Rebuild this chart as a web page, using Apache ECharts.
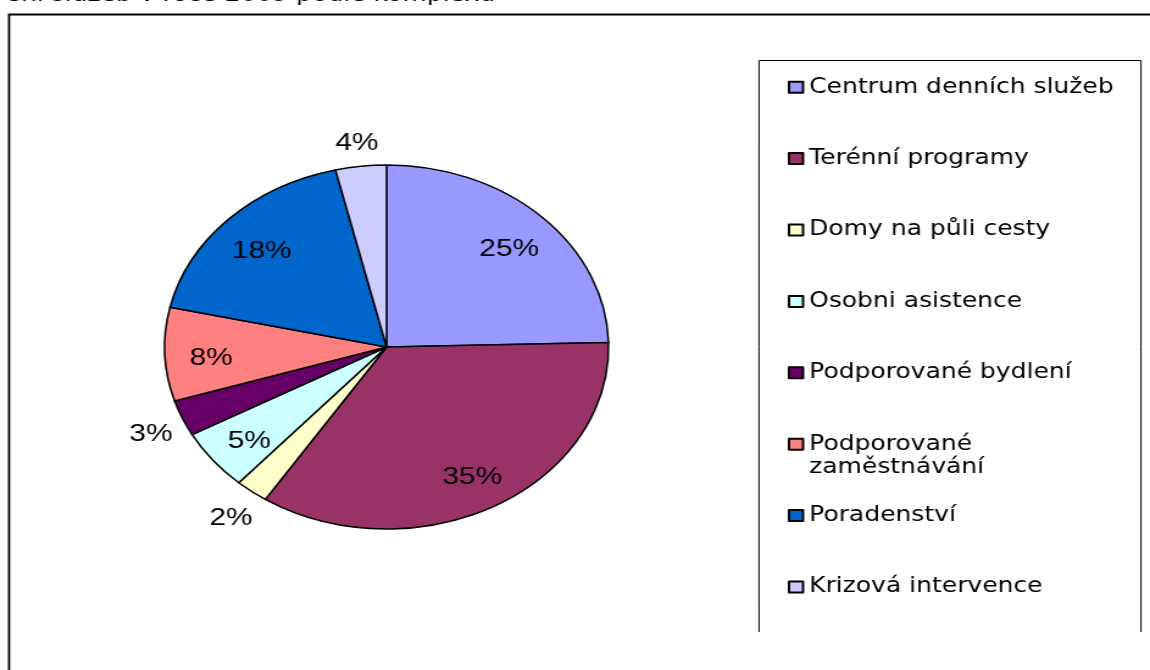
<!DOCTYPE html>
<html>
<head>
<meta charset="utf-8">
<script src="https://cdn.jsdelivr.net/npm/echarts@6/dist/echarts.min.js"></script>
<style>
  html, body { margin: 0; padding: 0; background: #fff; overflow: hidden; }
  /* the source picture is stretched sideways (round pie shows as an ellipse), so we draw narrow and stretch */
  #chart { width: 943px; height: 670px; transform: scaleX(1.2195); transform-origin: 0 0; }
</style>
</head>
<body>
<div id="chart"></div>
<script type="text/javascript">

var categories = ['Centrum denních služeb', 'Terénní programy', 'Domy na půli cesty', 'Osobni asistence',
                  'Podporované bydlení', 'Podporované\nzaměstnávání', 'Poradenství', 'Krizová intervence'];
var shares = [24.6, 34.6, 2.4, 5.4, 3.2, 8.3, 17.8, 3.7];
var colors = ['#9999FF', '#993366', '#FFFFCC', '#CCFFFF', '#660066', '#FF8080', '#0066CC', '#CCCCFF'];

var titleText = 'ení služeb v roce 2009 podle komplexu';

// small slices get their label outside the pie
function pieData(pick) {
	return categories.map(function (name, i) {
		return { name: name, value: shares[i], label: { show: pick(shares[i]) } };
	});
}

var pctLabel = function (p) { return Math.round(p.percent) + '%'; };
var labelFont = { fontFamily: 'Liberation Sans', fontSize: 24.5, color: '#000', offset: [0, 5] };
var pieCenter = [317, 347];

var myChart = echarts.init(document.getElementById('chart'), null, { renderer: 'canvas' });
var option = {
	color: colors,
	animation: false,
	graphic: [
		{
			type: 'text', x: 406, y: -4,
			style: { text: titleText, align: 'right', verticalAlign: 'middle',
				font: '20.5px "DejaVu Sans"', fill: '#000' }
		},
		{
			type: 'polyline',
			shape: { points: [[7.4, 700], [7.4, 14.5], [1000, 14.5]] },
			style: { stroke: '#000', lineWidth: 1.8, fill: null }
		},
		{
			type: 'polyline',
			shape: { points: [[622.4, 632], [622.4, 60.5], [935.6, 60.5], [935.6, 632]] },
			style: { stroke: '#000', lineWidth: 1, fill: null }
		}
	],
	legend: {
		orient: 'vertical',
		left: 646,
		top: 51.5,
		padding: 0,
		itemGap: 0,
		itemWidth: 11.5,
		itemHeight: 11,
		icon: 'rect',
		selectedMode: false,
		itemStyle: { borderColor: '#000', borderWidth: 2 },
		textStyle: { fontFamily: 'DejaVu Sans', fontSize: 20.5, lineHeight: 23.8, color: '#000' },
		// pad every entry to three lines so the marker sits on the first line of the name
		formatter: function (name) {
			return name.indexOf('\n') >= 0 ? '\n' + name : '\n' + name + '\n';
		},
		data: categories
	},
	series: [
		{
			name: 'služby',
			type: 'pie',
			center: pieCenter,
			radius: 182,
			startAngle: 90,
			label: { show: false },
			labelLine: { show: false },
			itemStyle: { borderColor: '#000', borderWidth: 1.5 },
			emphasis: { disabled: true },
			data: pieData(function () { return false; })
		},
		{
			name: 'inner labels',
			type: 'pie',
			center: pieCenter,
			radius: [100, 182],
			startAngle: 90,
			silent: true,
			avoidLabelOverlap: false,
			itemStyle: { color: 'rgba(0,0,0,0)', borderWidth: 0 },
			label: Object.assign({ position: 'inside', formatter: pctLabel }, labelFont),
			labelLine: { show: false },
			emphasis: { disabled: true },
			data: pieData(function (v) { return v >= 4.5; })
		},
		{
			name: 'outer labels',
			type: 'pie',
			center: pieCenter,
			radius: [188, 226],
			startAngle: 90,
			silent: true,
			avoidLabelOverlap: false,
			itemStyle: { color: 'rgba(0,0,0,0)', borderWidth: 0 },
			label: Object.assign({ position: 'inside', formatter: pctLabel }, labelFont),
			labelLine: { show: false },
			emphasis: { disabled: true },
			data: pieData(function (v) { return v < 4.5; })
		}
	]
};
myChart.setOption(option);
</script>
</body>
</html>
